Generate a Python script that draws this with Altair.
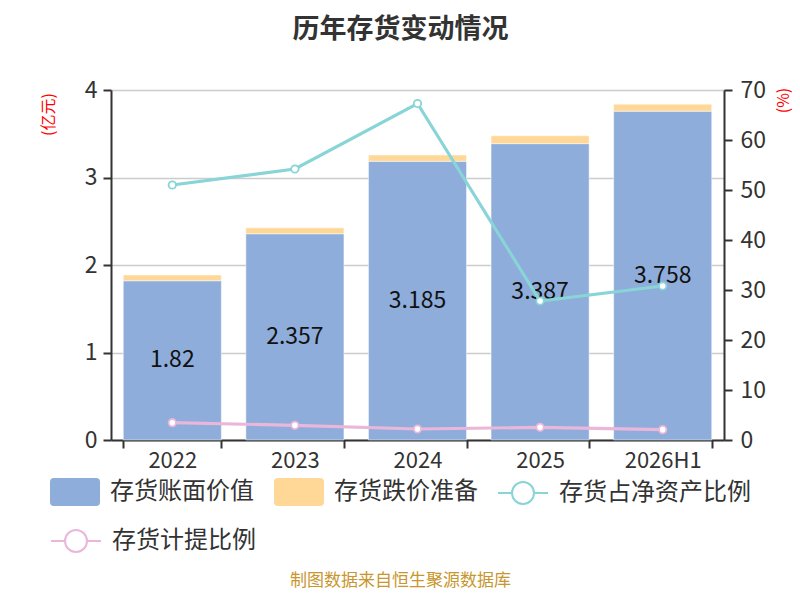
import altair as alt
import pandas as pd

FONT = "Noto Sans CJK SC"

years = ["2022", "2023", "2024", "2025", "2026H1"]
book_value = [1.82, 2.357, 3.185, 3.387, 3.758]
impairment = [0.066, 0.068, 0.072, 0.09, 0.08]
share_of_net_assets = [51.0, 54.2, 67.3, 27.8, 30.8]
provision_ratio = [3.46, 2.93, 2.2, 2.53, 2.07]

series_names = ["存货账面价值", "存货跌价准备", "存货占净资产比例", "存货计提比例"]
series_colors = ["#8EADDA", "#FFD898", "#88D4D7", "#EAB6D9"]

bars_df = pd.DataFrame({
    "year": years * 2,
    "series": [series_names[0]] * 5 + [series_names[1]] * 5,
    "value": book_value + impairment,
    "order": [0] * 5 + [1] * 5,
})
labels_df = pd.DataFrame({
    "year": years,
    "value": book_value,
    "label": [f"{v:g}" for v in book_value],
})
share_df = pd.DataFrame({"year": years, "series": [series_names[2]] * 5, "value": share_of_net_assets})
ratio_df = pd.DataFrame({"year": years, "series": [series_names[3]] * 5, "value": provision_ratio})

RECT = ("M-0.84,-0.56 L0.84,-0.56 Q1,-0.56 1,-0.4 L1,0.4 Q1,0.56 0.84,0.56 "
        "L-0.84,0.56 Q-1,0.56 -1,0.4 L-1,-0.4 Q-1,-0.56 -0.84,-0.56 Z")
LINESYM = ("M-1,0 L-0.44,0 M0.44,0 L1,0 M-0.44,0 A0.44,0.44 0 1 1 0.44,0 "
           "A0.44,0.44 0 1 1 -0.44,0 Z")


def common_legend(lx, ly, **kw):
    return alt.Legend(
        title=None, orient="none", legendX=lx, legendY=ly, direction="horizontal",
        columnPadding=20, symbolSize=2500, labelFontSize=24, labelColor="#333",
        labelFont=FONT, labelOffset=10, labelLimit=400, symbolOpacity=1, **kw,
    )


x = alt.X(
    "year:N", sort=years,
    scale=alt.Scale(paddingInner=0.2, paddingOuter=0.1),
    axis=alt.Axis(
        title="制图数据来自恒生聚源数据库", titleColor="#C8962E", titleFontSize=17,
        titleFontWeight="normal", titleFont=FONT, titleX=289, titleY=140,
        titleAlign="center", titleBaseline="middle",
        labelFontSize=22, labelColor="#333", labelAngle=0, labelFont=FONT,
        labelPadding=2, domainColor="#333", domainWidth=2, tickColor="#333",
        tickWidth=2, tickSize=8, tickBand="extent", grid=False,
    ),
)

y_left_scale = alt.Scale(domain=[0, 4])
y_left_axis = alt.Axis(
    values=[0, 1, 2, 3, 4], format="d", title="(亿元)", titleColor="red", titleFontSize=16,
    titleFontWeight="normal", titleFont=FONT, titleAngle=270, titleX=-63, titleY=24,
    titleAlign="center", titleBaseline="middle",
    labelFontSize=23, labelColor="#333", labelFont=FONT, labelPadding=6,
    domainColor="#333", domainWidth=2, tickColor="#333", tickWidth=2, tickSize=8,
    grid=True, gridColor="#CCCCCC", gridWidth=1.5,
)

bars = alt.Chart(bars_df).mark_bar(stroke="white", strokeWidth=0.6, strokeOpacity=0.8).encode(
    x=x,
    y=alt.Y("value:Q", stack="zero", scale=y_left_scale, axis=y_left_axis),
    fill=alt.Fill(
        "series:N",
        scale=alt.Scale(domain=series_names[:2], range=series_colors[:2]),
        legend=common_legend(-61, 377, symbolType=RECT, symbolStrokeWidth=0,
                             symbolStrokeColor="transparent"),
    ),
    order=alt.Order("order:Q"),
)

texts = alt.Chart(labels_df).transform_calculate(mid="datum.value / 2").mark_text(
    fontSize=23, color="#111111", font=FONT
).encode(
    x=x,
    y=alt.Y("mid:Q", scale=y_left_scale),
    text="label:N",
)

left = alt.layer(bars, texts)

y_right = alt.Y(
    "value:Q", scale=alt.Scale(domain=[0, 70]),
    axis=alt.Axis(
        orient="right", values=[0, 10, 20, 30, 40, 50, 60, 70], title="(%)",
        titleColor="red", titleFontSize=16, titleFontWeight="normal", titleFont=FONT,
        titleAngle=270, titleX=59, titleY=10, titleAlign="center", titleBaseline="middle",
        labelFontSize=23, labelColor="#333", labelFont=FONT, labelPadding=8,
        domainColor="#333", domainWidth=2, tickColor="#333", tickWidth=2, tickSize=8,
        grid=False,
    ),
)

share_line = alt.Chart(share_df).mark_line(
    strokeWidth=3.2,
    point=alt.OverlayMarkDef(filled=False, fill="white", size=55, strokeWidth=1.8),
).encode(
    x=x,
    y=y_right,
    stroke=alt.Stroke(
        "series:N",
        scale=alt.Scale(domain=[series_names[2]], range=[series_colors[2]]),
        legend=common_legend(386, 377, symbolType=LINESYM, symbolFillColor="white",
                             symbolStrokeWidth=2),
    ),
)

ratio_line = alt.Chart(ratio_df).mark_line(
    strokeWidth=3.2,
    point=alt.OverlayMarkDef(filled=False, fill="white", size=55, strokeWidth=1.8),
).encode(
    x=x,
    y=alt.Y("value:Q"),
    color=alt.Color(
        "series:N",
        scale=alt.Scale(domain=[series_names[3]], range=[series_colors[3]]),
        legend=common_legend(-61, 425, symbolType=LINESYM, symbolFillColor="white",
                             symbolStrokeWidth=2),
    ),
)

right = alt.layer(share_line, ratio_line)

chart = alt.layer(left, right).resolve_scale(y="independent").properties(
    width=613, height=350,
    title=alt.TitleParams("历年存货变动情况", fontSize=27, fontWeight="bold", color="#333",
                          font=FONT, anchor="middle", dx=-17, offset=35),
    padding={"left": 103, "top": 82, "right": 68, "bottom": 152},
    autosize=alt.AutoSizeParams(type="none"),
).configure_view(stroke=None).configure(background="white")

chart.save("out.html", embed_options={"renderer": "svg", "actions": False})
